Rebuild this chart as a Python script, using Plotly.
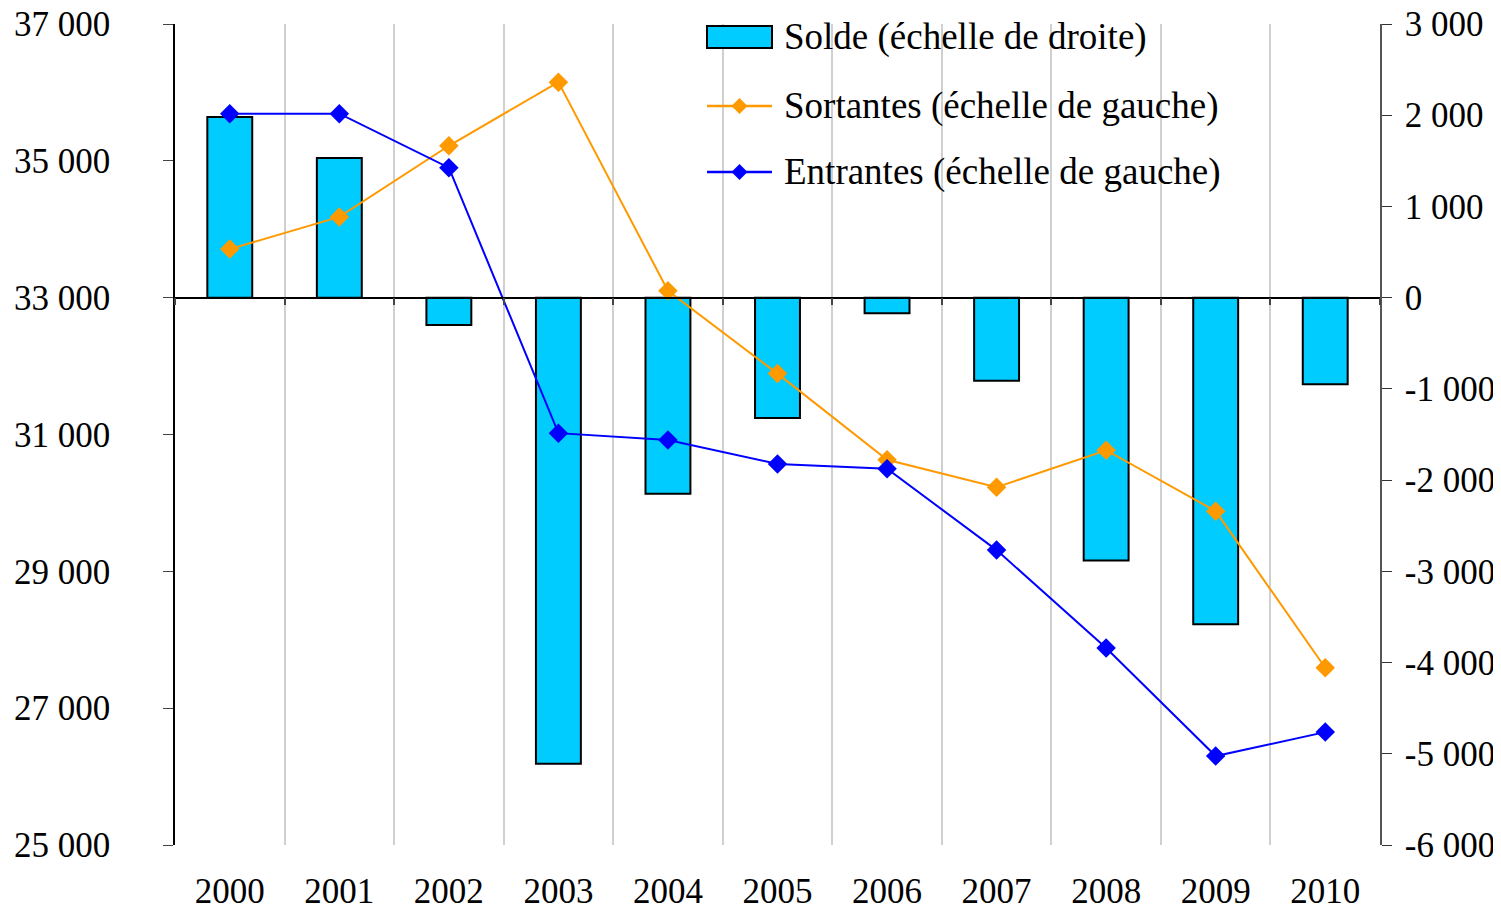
import plotly.graph_objects as go

years = ["2000", "2001", "2002", "2003", "2004", "2005", "2006", "2007", "2008", "2009", "2010"]
solde = [1980, 1530, -300, -5110, -2150, -1320, -170, -910, -2880, -3580, -950]
sortantes = [33710, 34180, 35220, 36150, 33100, 31890, 30630, 30230, 30770, 29880, 27590]
entrantes = [35690, 35690, 34900, 31020, 30920, 30570, 30500, 29310, 27880, 26300, 26650]

left_vals = [25000, 27000, 29000, 31000, 33000, 35000, 37000]
left_text = ["25 000", "27 000", "29 000", "31 000", "33 000", "35 000", "37 000"]
right_vals = [-6000, -5000, -4000, -3000, -2000, -1000, 0, 1000, 2000, 3000]
right_text = ["-6 000", "-5 000", "-4 000", "-3 000", "-2 000", "-1 000", "0", "1 000", "2 000", "3 000"]

names = ["Solde (échelle de droite)", "Sortantes (échelle de gauche)", "Entrantes (échelle de gauche)"]
BAR_COLOR = "#00CCFF"
ORANGE = "#FF9900"
BLUE = "#0000FF"

FONT = "Liberation Serif"
FS = 35
LFS = 37

# page has an 8px body margin; figure sized to fit the viewport
OFF = 8
W, H = 1493, 903
ML, MR, MT, MB = 167, 121, 16, 66
PW, PH = W - ML - MR, H - MT - MB


def fx(px):
    return (px - OFF - ML) / PW


def fy(py):
    return (H - MB - (py - OFF)) / PH


fig = go.Figure()
fig.add_trace(go.Bar(
    x=years, y=solde, name=names[0],
    xaxis="x", yaxis="y", width=0.41,
    marker=dict(color=BAR_COLOR, line=dict(color="black", width=2)),
    showlegend=False,
))
fig.add_trace(go.Scatter(
    x=years, y=sortantes, name=names[1], xaxis="x2", yaxis="y2",
    mode="lines+markers", line=dict(color=ORANGE, width=2),
    marker=dict(symbol="diamond", size=15, color=ORANGE),
    showlegend=False,
))
fig.add_trace(go.Scatter(
    x=years, y=entrantes, name=names[2], xaxis="x2", yaxis="y2",
    mode="lines+markers", line=dict(color=BLUE, width=2),
    marker=dict(symbol="diamond", size=15, color=BLUE),
    showlegend=False,
))

# Manual legend (white box covering gridlines, symbols and texts)
shapes = [
    dict(type="rect", xref="paper", yref="paper", layer="between",
         x0=fx(700), x1=fx(1280), y0=fy(208), y1=fy(OFF + 16),
         fillcolor="white", line=dict(width=0)),
    dict(type="rect", xref="paper", yref="paper", layer="above",
         x0=fx(707), x1=fx(772), y0=fy(48), y1=fy(26),
         fillcolor=BAR_COLOR, line=dict(color="black", width=2)),
]
d = 8
for yc, col in [(106, ORANGE), (172, BLUE)]:
    shapes.append(dict(type="line", xref="paper", yref="paper", layer="above",
                       x0=fx(707), x1=fx(772), y0=fy(yc), y1=fy(yc),
                       line=dict(color=col, width=2.5)))
    cx = 739.5
    path = "M{},{} L{},{} L{},{} L{},{} Z".format(
        fx(cx - d), fy(yc), fx(cx), fy(yc - d), fx(cx + d), fy(yc), fx(cx), fy(yc + d))
    shapes.append(dict(type="path", xref="paper", yref="paper", layer="above",
                       path=path, fillcolor=col, line=dict(color=col, width=0)))

annotations = []
for name, yc in zip(names, [37, 106, 172]):
    annotations.append(dict(
        text=name, xref="paper", yref="paper", x=fx(782), y=fy(yc),
        xanchor="left", yanchor="middle", showarrow=False,
        font=dict(family=FONT, size=LFS, color="black"),
    ))

fig.update_layout(
    width=W, height=H,
    margin=dict(l=ML, r=MR, t=MT, b=MB),
    paper_bgcolor="white", plot_bgcolor="white",
    font=dict(family=FONT, size=FS, color="black"),
    showlegend=False,
    xaxis=dict(
        type="category", range=[-0.5, 10.5], tickson="boundaries",
        showgrid=True, gridcolor="#D0D0D0", gridwidth=1.5,
        showline=False, ticks="", ticklabelstandoff=22, automargin=False,
        tickfont=dict(family=FONT, size=FS),
    ),
    xaxis2=dict(
        type="category", overlaying="x", anchor="free", position=6 / 9,
        range=[-0.5, 10.5], tickson="boundaries", showgrid=False,
        showline=True, linecolor="black", linewidth=1.5,
        ticks="outside", ticklen=7, tickcolor="#444", tickwidth=1.5,
        showticklabels=False, automargin=False,
    ),
    yaxis=dict(
        range=[-6000, 3000], tickvals=right_vals, ticktext=right_text,
        side="right", showgrid=False, zeroline=False,
        showline=True, linecolor="#555", linewidth=1.5, ticks="outside",
        ticklen=10, tickcolor="#333", ticklabelstandoff=6, automargin=False,
        ticklabeloverflow="allow",
        tickfont=dict(family=FONT, size=FS),
    ),
    yaxis2=dict(
        range=[25000, 37000], tickvals=left_vals, ticktext=left_text,
        overlaying="y", side="left", anchor="x",
        showgrid=False, zeroline=False, showline=True, linecolor="black",
        linewidth=1.5, ticks="outside", ticklen=10, tickcolor="#444",
        ticklabelstandoff=46, automargin=False, ticklabeloverflow="allow",
        tickfont=dict(family=FONT, size=FS),
    ),
    shapes=shapes,
    annotations=annotations,
)

fig.write_html("out.html")
